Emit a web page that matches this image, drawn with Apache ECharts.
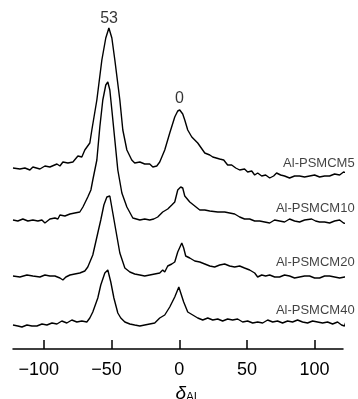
<!DOCTYPE html>
<html>
<head>
<meta charset="utf-8">
<script src="https://cdn.jsdelivr.net/npm/echarts@6/dist/echarts.min.js"></script>
<style>html,body{margin:0;padding:0;background:#fff;}#c{width:358px;height:399px;}</style>
</head>
<body>
<div id="c"></div>
<script>
// Chemical shift (ppm) and intensity values for each sample
const names = ['Al-PSMCM5', 'Al-PSMCM10', 'Al-PSMCM20', 'Al-PSMCM40'];
const tickValues = [-100, -50, 0, 50, 100];
const peakLabels = ['53', '0'];
const peakShifts = [-52, 0];

const shift5 = [-123.0,-117.9,-114.2,-110.5,-108.3,-103.1,-99.4,-95.7,-90.5,-88.3,-86.1,-82.4,-78.7,-75.0,-72.1,-69.9,-66.2,-64.7,-61.0,-57.3,-54.4,-52.1,-49.9,-47.7,-44.0,-41.8,-38.8,-35.2,-33.0,-29.2,-25.6,-21.9,-19.6,-16.7,-14.5,-10.8,-7.1,-3.4,-1.2,0.3,2.5,4.0,6.2,9.2,13.6,18.8,22.5,24.7,29.8,32.8,35.7,38.7,41.7,44.6,48.2,50.5,53.5,55.7,57.9,60.9,63.8,66.8,69.7,71.9,74.9,77.8,81.5,85.2,88.9,92.6,96.3,100.0,103.7,107.4,111.1,114.8,118.5,121.4,124.4,127.3,129.5];
const int5 = [1,0,1,-1,2,0,3,2,5,3,7,6,7,13,12,19,26,39,69,109,131,141,131,109,69,39,19,9,6,7,5,5,2,3,7,19,36,52,58,59,55,49,39,32,26,16,14,12,10,9,4,4,1,-1,0,-3,-2,-6,-4,-7,-6,-9,-7,-4,-6,-7,-9,-7,-7,-8,-7,-6,-8,-7,-7,-5,-6,-3,-4,-4,-3];

const shift10 = [-123.0,-119.4,-115.7,-112.0,-108.3,-104.6,-101.6,-99.4,-95.7,-92.0,-89.8,-88.3,-84.6,-80.9,-77.3,-73.6,-71.3,-67.7,-65.4,-64.0,-61.0,-58.8,-56.6,-54.4,-52.9,-51.4,-49.9,-47.7,-45.5,-42.5,-38.8,-34.4,-29.2,-25.6,-21.9,-18.9,-16.0,-12.3,-8.6,-5.6,-3.4,-1.2,1.0,2.5,4.0,7.7,11.4,15.1,18.8,22.5,28.4,33.5,37.2,40.9,44.6,48.2,52.0,55.7,59.4,63.1,66.8,70.4,74.1,77.8,81.5,85.2,88.9,92.6,97.8,100.7,103.7,107.4,111.1,114.8,118.5,121.4,124.4,127.3,129.5];
const int10 = [1,0,2,0,1,0,1,-2,2,3,2,6,5,7,8,9,14,24,31,41,61,94,121,136,139,131,111,81,51,28,14,3,1,2,1,2,4,9,12,16,19,31,34,33,25,19,15,11,11,10,9,9,8,7,4,2,2,0,0,-1,-2,1,0,-1,2,0,-1,1,2,0,-1,-1,-2,0,1,-2,-3,-1,-2];

const shift20 = [-123.0,-117.9,-112.7,-108.3,-103.1,-99.4,-95.7,-92.0,-88.3,-86.1,-83.9,-80.9,-77.3,-73.6,-69.9,-67.7,-64.0,-60.3,-58.1,-55.8,-53.6,-51.4,-49.2,-47.0,-44.0,-40.3,-36.6,-33.0,-29.2,-25.6,-21.9,-18.2,-14.5,-12.3,-10.8,-8.6,-5.6,-3.4,-1.2,1.8,3.2,4.7,7.7,11.4,15.1,18.8,22.5,26.1,29.8,33.5,37.2,40.9,44.6,48.2,52.0,55.7,57.9,60.9,63.8,66.8,70.5,74.1,77.8,81.5,85.2,88.9,92.6,96.3,100.0,103.7,107.4,111.1,114.8,118.5,122.2,125.9];
const int20 = [1,0,2,1,0,2,1,1,-1,-3,0,2,3,4,6,10,22,44,57,72,80,81,64,47,24,9,5,3,2,1,2,3,4,7,5,11,13,15,25,34,29,21,19,16,15,13,11,10,12,13,11,10,11,9,7,4,0,2,1,2,0,0,2,1,-1,0,1,1,-1,-1,1,1,0,-1,0,0];

const shift40 = [-123.0,-119.4,-116.4,-112.7,-109.0,-105.3,-101.6,-97.9,-94.2,-90.5,-86.9,-83.2,-79.5,-75.8,-72.1,-68.4,-66.2,-64.0,-60.3,-58.1,-55.1,-52.9,-50.7,-48.4,-45.5,-43.3,-40.3,-36.6,-33.0,-29.2,-25.6,-21.9,-18.2,-14.5,-10.8,-7.1,-3.4,-0.4,1.0,3.2,6.2,9.9,13.6,17.3,21.0,24.7,28.4,32.0,35.7,39.4,43.1,46.8,50.5,54.2,57.9,61.6,65.3,69.0,72.6,76.3,80.0,83.7,87.4,91.1,94.8,98.5,102.2,105.9,109.6,113.3,117.0,119.9,122.1,123.6];
const int40 = [0,-1,-2,0,-1,-1,1,0,2,1,4,2,5,3,4,3,7,13,27,40,52,55,43,27,12,7,3,1,0,-1,0,1,2,7,10,18,28,38,39,23,13,10,7,5,7,5,6,4,6,5,6,3,4,2,3,2,5,3,4,2,4,3,5,3,2,4,3,2,3,1,3,0,-1,5];

const shifts = [shift5, shift10, shift20, shift40];
const intensities = [int5, int10, int20, int40];

// vertical stacking offsets (plot units) and label placement
const offsets = [180, 128, 72, 24];
const nameLift = [6, 13, 15, 15];
const nameShift = 129.6;
const peakLift = [150, 70];

const chart = echarts.init(document.getElementById('c'), null, {renderer: 'canvas'});
const FONT = '"Liberation Sans", Arial, Helvetica, sans-serif';

const series = shifts.map((xs, k) => ({
  type: 'line',
  name: names[k],
  data: xs.map((x, i) => [x, offsets[k] + intensities[k][i]]),
  showSymbol: false,
  symbol: 'none',
  clip: false,
  smooth: false,
  lineStyle: {color: '#000', width: 1.4},
  silent: true,
  animation: false
}));

series.push({
  type: 'scatter',
  symbolSize: 0,
  clip: false,
  silent: true,
  animation: false,
  data: names.map((n, k) => ({value: [nameShift, offsets[k] + nameLift[k]], name: n})),
  label: {
    show: true, position: 'left', distance: 0,
    formatter: p => p.name,
    fontFamily: FONT, fontSize: 13, color: '#111'
  }
});

series.push({
  type: 'scatter',
  symbolSize: 0,
  clip: false,
  silent: true,
  animation: false,
  data: peakLabels.map((t, k) => ({value: [peakShifts[k], offsets[0] + peakLift[k]], name: t})),
  label: {
    show: true, position: 'inside',
    formatter: p => p.name,
    fontFamily: FONT, fontSize: 16, color: '#000'
  }
});

chart.setOption({
  backgroundColor: '#fff',
  animation: false,
  grid: {left: 13, right: 15, top: 0, bottom: 50, containLabel: false, outerBoundsMode: 'none'},
  xAxis: {
    type: 'value',
    min: -123, max: 121,
    splitLine: {show: false},
    axisLine: {show: true, onZero: false, lineStyle: {color: '#000', width: 1.5}},
    axisTick: {show: true, inside: true, length: 9, customValues: tickValues, lineStyle: {color: '#000', width: 1.5}},
    axisLabel: {
      show: true, customValues: tickValues, margin: 12,
      fontFamily: FONT, fontSize: 18, color: '#000',
      formatter: v => (v < 0 ? '\u2212' + Math.abs(v) + '{g|}' : String(v)),
      rich: {g: {width: 10.5}}
    },
    name: '{d|δ}{s|Al}',
    nameLocation: 'middle',
    nameGap: 26,
    nameTextStyle: {
      padding: [0, 0, 0, 16],
      rich: {
        d: {fontFamily: FONT, fontStyle: 'italic', fontSize: 19, color: '#000'},
        s: {fontFamily: FONT, fontSize: 12, color: '#000', verticalAlign: 'bottom', padding: [8, 0, 0, 0]}
      }
    }
  },
  yAxis: {
    type: 'value', min: 0, max: 349, show: false
  },
  series: series
});
</script>
</body>
</html>
